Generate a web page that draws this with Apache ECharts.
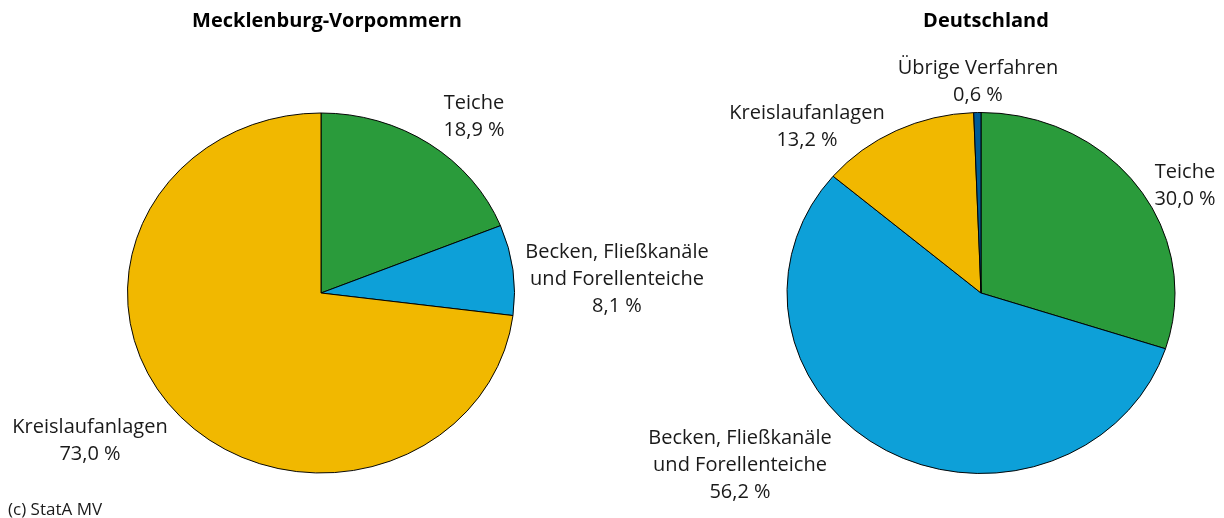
<!DOCTYPE html>
<html>
<head>
<meta charset="utf-8">
<script src="https://cdn.jsdelivr.net/npm/echarts@6/dist/echarts.min.js"></script>
<style>
  html, body { margin: 0; padding: 0; background: #fff; }
  #chart { width: 1224px; height: 518px; }
</style>
</head>
<body>
<div id="chart"></div>
<script>
// Daten: Anteile der Produktionsverfahren (Prozent)
const categoriesMV = ['Teiche', 'Becken, Fließkanäle\nund Forellenteiche', 'Kreislaufanlagen'];
const valuesMV = [18.9, 8.1, 73.0];
const categoriesDE = ['Teiche', 'Becken, Fließkanäle\nund Forellenteiche', 'Kreislaufanlagen', 'Übrige Verfahren'];
const valuesDE = [30.0, 56.2, 13.2, 0.6];

// Farben je Kategorie
const colorsMV = ['#2a9b3b', '#0da0d8', '#f1b800'];
const colorsDE = ['#2a9b3b', '#0da0d8', '#f1b800', '#005b96'];

// Lage der Beschriftungen (Pixel)
const labelPosMV = [[474, 117], [617, 279], [90, 441]];
const labelPosDE = [[1185, 186], [740, 465], [807, 127], [978, 82]];

const FONT = '"Open Sans", "Noto Sans", sans-serif';

function fmt(v) {
    return v.toFixed(1).replace('.', ',') + ' %';
}

// Ellipsenförmige Torte über custom series (Sektor mit scaleY)
function pieSeries(names, values, colors, labelPos, cx, cy, rx, ry) {
    const total = values.reduce((a, b) => a + b, 0);
    return {
        type: 'custom',
        coordinateSystem: 'none',
        silent: true,
        data: values.map((v, i) => ({ value: v, name: names[i] })),
        renderItem: function (params, api) {
            const i = params.dataIndex;
            let before = 0;
            for (let k = 0; k < i; k++) before += values[k];
            const v = api.value(0);
            const a0 = -Math.PI / 2 + before / total * Math.PI * 2;
            const a1 = -Math.PI / 2 + (before + v) / total * Math.PI * 2;
            return {
                type: 'group',
                children: [{
                    type: 'sector',
                    shape: { cx: cx, cy: cy, r0: 0, r: rx, startAngle: a0, endAngle: a1, clockwise: true },
                    originX: cx,
                    originY: cy,
                    scaleY: ry / rx,
                    style: { fill: colors[i], stroke: '#000', lineWidth: 1, strokeNoScale: true }
                }, {
                    type: 'text',
                    x: labelPos[i][0],
                    y: labelPos[i][1],
                    style: {
                        text: names[i] + '\n' + fmt(v),
                        align: 'center',
                        verticalAlign: 'middle',
                        font: '20px ' + FONT,
                        lineHeight: 27,
                        fill: '#1a1a1a'
                    }
                }]
            };
        }
    };
}

const chart = echarts.init(document.getElementById('chart'));
chart.setOption({
    animation: false,
    backgroundColor: '#fff',
    title: [{
        text: 'Mecklenburg-Vorpommern',
        left: 322, top: 6, textAlign: 'center',
        textStyle: { fontFamily: FONT, fontWeight: 'bold', fontSize: 20, color: '#000' }
    }, {
        text: 'Deutschland',
        left: 981, top: 6, textAlign: 'center',
        textStyle: { fontFamily: FONT, fontWeight: 'bold', fontSize: 20, color: '#000' }
    }, {
        text: '(c) StatA MV',
        left: 3, top: 497,
        textStyle: { fontFamily: FONT, fontWeight: 'normal', fontSize: 17, color: '#1a1a1a' }
    }],
    series: [
        pieSeries(categoriesMV, valuesMV, colorsMV, labelPosMV, 321, 293, 193.5, 180),
        pieSeries(categoriesDE, valuesDE, colorsDE, labelPosDE, 981, 293, 194, 180.5)
    ]
});
</script>
</body>
</html>
